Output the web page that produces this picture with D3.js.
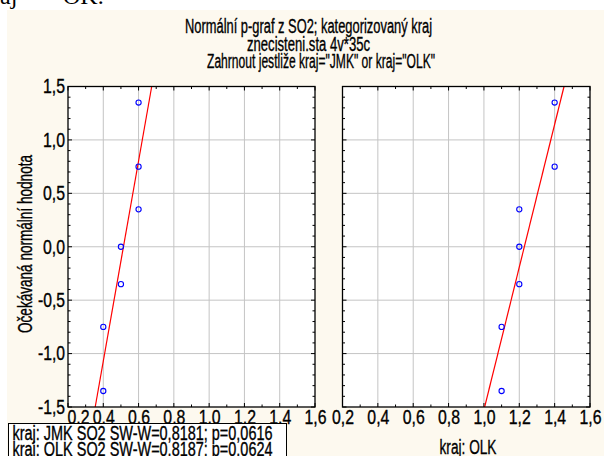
<!DOCTYPE html>
<html>
<head>
<meta charset="utf-8">
<script src="https://cdn.jsdelivr.net/npm/d3@7"></script>
<style>
  body { margin: 0; background: #fff; }
  svg { display: block; }
  text { font-family: "Liberation Sans", Arial, sans-serif; fill: #000; }
  .heavy { stroke: #000; stroke-width: 0.35px; }
</style>
</head>
<body>
<svg></svg>
<script>
// data
const normScores = [-1.35, -0.75, -0.35, 0, 0.35, 0.75, 1.35]  // expected normal values
const jmkSO2 = [0.4, 0.4, 0.5, 0.5, 0.6, 0.6, 0.6]
const olkSO2 = [1.1, 1.1, 1.2, 1.2, 1.2, 1.4, 1.4]
const xTicks = [0.2, 0.4, 0.6, 0.8, 1.0, 1.2, 1.4, 1.6]
const xTickLabels = ["0,2", "0,4", "0,6", "0,8", "1,0", "1,2", "1,4", "1,6"]
const yTicks = [-1.5, -1, -0.5, 0, 0.5, 1, 1.5]
const yTickLabels = ["-1,5", "-1,0", "-0,5", "0,0", "0,5", "1,0", "1,5"]
const titleLines = [
  "Normální p-graf z SO2; kategorizovaný kraj",
  "znecisteni.sta 4v*35c",
  "Zahrnout jestliže kraj=\"JMK\" or kraj=\"OLK\""
]
const legendLines = [
  "kraj: JMK SO2 SW-W=0,8181; p=0,0616",
  "kraj: OLK SO2 SW-W=0,8187; p=0,0624"
]
const yTitle = "Očekávaná normální hodnota"

const W = 604, H = 456
const svg = d3.select("svg").attr("width", W).attr("height", H)

// white strip at top with the cut-off document text, then the cream chart area
svg.append("rect").attr("width", W).attr("height", H).attr("fill", "#fff")
svg.append("rect").attr("x", 7).attr("y", 10).attr("width", W - 7).attr("height", H - 10).attr("fill", "#fdf9ef")
svg.append("text").attr("x", 0).attr("y", 4).style("font-family", "'Liberation Serif', serif").style("font-size", "24px").text("aj")
svg.append("text").attr("x", 38).attr("y", 4).style("font-family", "'Liberation Serif', serif").style("font-size", "24px").text("=")
svg.append("text").attr("x", 63).attr("y", 4).style("font-family", "'Liberation Serif', serif").style("font-size", "24px").text("OK.")

// title
const titlePos = [[185, 33, 247], [247, 51, 123], [207, 68, 228]]
svg.selectAll(".title").data(titleLines).enter().append("text")
  .attr("class", "title heavy")
  .attr("x", (d, i) => titlePos[i][0])
  .attr("y", (d, i) => titlePos[i][1])
  .attr("textLength", (d, i) => titlePos[i][2])
  .attr("lengthAdjust", "spacingAndGlyphs")
  .style("font-size", "19.5px")
  .text(d => d)

// y axis title
svg.append("text")
  .attr("class", "heavy")
  .attr("transform", "translate(31.5,244) rotate(-90)")
  .attr("text-anchor", "middle")
  .attr("textLength", 178)
  .attr("lengthAdjust", "spacingAndGlyphs")
  .style("font-size", "19.5px")
  .text(yTitle)

const y = d3.scaleLinear().domain([-1.5, 1.5]).range([407, 86.5])

const panels = [
  { name: "JMK", values: jmkSO2, x0: 68, x1: 315, showY: true },
  { name: "OLK", values: olkSO2, x0: 342.5, x1: 590, showY: false }
]

panels.forEach((p, pi) => {
  const x = d3.scaleLinear().domain([0.2, 1.6]).range([p.x0, p.x1])
  const g = svg.append("g")

  g.append("rect")
    .attr("x", p.x0).attr("y", y(1.5))
    .attr("width", p.x1 - p.x0).attr("height", y(-1.5) - y(1.5))
    .attr("fill", "#fff")

  // grid
  g.selectAll(".gx").data(xTicks.slice(1, -1)).enter().append("line")
    .attr("x1", d => x(d)).attr("x2", d => x(d))
    .attr("y1", y(1.5)).attr("y2", y(-1.5))
    .attr("stroke", "#c4c4c4").attr("stroke-width", 1)
  g.selectAll(".gy").data(yTicks.slice(1, -1)).enter().append("line")
    .attr("x1", p.x0).attr("x2", p.x1)
    .attr("y1", d => y(d)).attr("y2", d => y(d))
    .attr("stroke", "#c4c4c4").attr("stroke-width", 1)

  // inward ticks on all four sides
  const tk = g.append("g").attr("stroke", "#000").attr("stroke-width", 1)
  x.ticks(14).forEach(d => {
    const len = xTicks.some(t => Math.abs(t - d) < 1e-9) ? 4 : 2.5
    tk.append("line").attr("x1", x(d)).attr("x2", x(d)).attr("y1", y(1.5)).attr("y2", y(1.5) + len)
    tk.append("line").attr("x1", x(d)).attr("x2", x(d)).attr("y1", y(-1.5)).attr("y2", y(-1.5) - len)
  })
  y.ticks(30).forEach(d => {
    const len = yTicks.some(t => Math.abs(t - d) < 1e-9) ? 4 : 2.5
    tk.append("line").attr("y1", y(d)).attr("y2", y(d)).attr("x1", p.x0).attr("x2", p.x0 + len)
    tk.append("line").attr("y1", y(d)).attr("y2", y(d)).attr("x1", p.x1).attr("x2", p.x1 - len)
  })

  // fitted line (regression of normal score on value)
  const mx = d3.mean(p.values), mz = d3.mean(normScores)
  const sxz = d3.sum(p.values, (v, i) => (v - mx) * (normScores[i] - mz))
  const sxx = d3.sum(p.values, v => (v - mx) * (v - mx))
  const b = sxz / sxx
  const fitX = z => mx + (z - mz) / b
  const clipId = "clip" + pi
  svg.append("clipPath").attr("id", clipId).append("rect")
    .attr("x", p.x0).attr("y", y(1.5))
    .attr("width", p.x1 - p.x0).attr("height", y(-1.5) - y(1.5))
  g.append("line")
    .attr("clip-path", `url(#${clipId})`)
    .attr("x1", x(fitX(-1.5))).attr("y1", y(-1.5))
    .attr("x2", x(fitX(1.5))).attr("y2", y(1.5))
    .attr("stroke", "#ff0000").attr("stroke-width", 1.2)

  // points
  g.selectAll("circle").data(p.values).enter().append("circle")
    .attr("cx", d => x(d))
    .attr("cy", (d, i) => y(normScores[i]))
    .attr("r", 2.6)
    .attr("fill", "none").attr("stroke", "#0000ff").attr("stroke-width", 1.1)

  // frame
  g.append("rect")
    .attr("x", p.x0).attr("y", y(1.5))
    .attr("width", p.x1 - p.x0).attr("height", y(-1.5) - y(1.5))
    .attr("fill", "none").attr("stroke", "#000").attr("stroke-width", 1.3)

  // x axis labels
  const xa = svg.append("g").attr("transform", `translate(0,${y(-1.5)})`)
    .call(d3.axisBottom(x).tickValues(xTicks).tickFormat((d, i) => xTickLabels[i]).tickSize(0).tickPadding(3))
  xa.select(".domain").remove()
  xa.selectAll("text")
    .attr("class", "heavy")
    .style("font-size", "19.5px").attr("font-family", null).attr("fill", "#000")
    .attr("textLength", 22).attr("lengthAdjust", "spacingAndGlyphs")
  if (p.showY) {
    xa.selectAll("text").filter((d, i) => i === 0).attr("text-anchor", "start").attr("x", -1)
    const ya = svg.append("g").attr("transform", `translate(${p.x0},0)`)
      .call(d3.axisLeft(y).tickValues(yTicks).tickFormat((d, i) => yTickLabels[i]).tickSize(0).tickPadding(3))
    ya.select(".domain").remove()
    ya.selectAll("text")
      .attr("class", "heavy")
      .style("font-size", "19.5px").attr("font-family", null).attr("fill", "#000")
      .attr("textLength", (d, i) => yTickLabels[i].length > 3 ? 27 : 22)
      .attr("lengthAdjust", "spacingAndGlyphs")
  }
})

// category label under right panel
svg.append("text")
  .attr("class", "heavy")
  .attr("x", 468).attr("y", 454)
  .attr("text-anchor", "middle")
  .attr("textLength", 57).attr("lengthAdjust", "spacingAndGlyphs")
  .style("font-size", "19.5px")
  .text("kraj: OLK")

// legend box
svg.append("rect")
  .attr("x", 8.5).attr("y", 423.5).attr("width", 278).attr("height", 45)
  .attr("fill", "#fff").attr("stroke", "#000").attr("stroke-width", 1)
svg.selectAll(".leg").data(legendLines).enter().append("text")
  .attr("class", "leg heavy")
  .attr("x", 12.5)
  .attr("y", (d, i) => 440 + i * 16)
  .attr("textLength", 260).attr("lengthAdjust", "spacingAndGlyphs")
  .style("font-size", "19.5px")
  .text(d => d)
</script>
</body>
</html>
